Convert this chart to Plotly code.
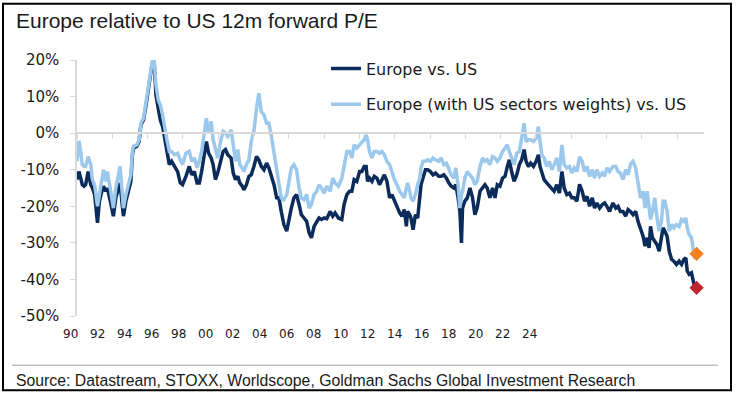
import plotly.graph_objects as go

# ---------------- data ----------------
years = [
    1990.00, 1990.11, 1990.21, 1990.30, 1990.40, 1990.49, 1990.63, 1990.78, 1990.87, 1991.00,
    1991.16, 1991.27, 1991.38, 1991.50, 1991.63, 1991.72, 1991.91, 1992.06, 1992.20, 1992.33,
    1992.44, 1992.54, 1992.63, 1992.77, 1992.90, 1993.05, 1993.14, 1993.20, 1993.39, 1993.52,
    1993.62, 1993.77, 1993.90, 1994.03, 1994.15, 1994.26, 1994.38, 1994.47, 1994.60, 1994.72,
    1994.85, 1994.98, 1995.09, 1995.23, 1995.36, 1995.51, 1995.70, 1995.85, 1995.98, 1996.17,
    1996.36, 1996.50, 1996.65, 1996.80, 1996.93, 1997.06, 1997.18, 1997.33, 1997.46, 1997.60,
    1997.71, 1997.84, 1997.97, 1998.13, 1998.28, 1998.41, 1998.54, 1998.73, 1998.85, 1998.98,
    1999.11, 1999.22, 1999.36, 1999.45, 1999.60, 1999.74, 1999.87, 2000.02, 2000.17, 2000.30,
    2000.44, 2000.59, 2000.74, 2000.87, 2001.00, 2001.16, 2001.31, 2001.44, 2001.57, 2001.72,
    2001.88, 2002.01, 2002.14, 2002.29, 2002.44, 2002.58, 2002.71, 2002.86, 2003.01, 2003.15,
    2003.28, 2003.43, 2003.58, 2003.71, 2003.85, 2004.00, 2004.15, 2004.34, 2004.49, 2004.62,
    2004.81, 2005.00, 2005.13, 2005.29, 2005.44, 2005.57, 2005.70, 2005.85, 2006.01, 2006.14,
    2006.27, 2006.38, 2006.46, 2006.57, 2006.71, 2006.84, 2006.99, 2007.14, 2007.28, 2007.41,
    2007.56, 2007.71, 2007.84, 2007.98, 2008.13, 2008.28, 2008.41, 2008.54, 2008.66, 2008.73,
    2008.85, 2008.92, 2009.04, 2009.17, 2009.30, 2009.42, 2009.49, 2009.60, 2009.74, 2009.87,
    2010.02, 2010.17, 2010.31, 2010.49, 2010.63, 2010.78, 2010.93, 2011.06, 2011.20, 2011.35,
    2011.46, 2011.59, 2011.69, 2011.78, 2011.84, 2011.97, 2012.11, 2012.26, 2012.41, 2012.54,
    2012.67, 2012.83, 2012.98, 2013.11, 2013.24, 2013.39, 2013.54, 2013.68, 2013.81, 2013.96,
    2014.11, 2014.25, 2014.38, 2014.49, 2014.62, 2014.76, 2014.91, 2015.06, 2015.19, 2015.33,
    2015.44, 2015.57, 2015.70, 2015.86, 2016.01, 2016.14, 2016.23, 2016.33, 2016.46, 2016.61,
    2016.76, 2016.90, 2017.03, 2017.18, 2017.33, 2017.47, 2017.60, 2017.75, 2017.90, 2018.03,
    2018.17, 2018.32, 2018.47, 2018.62, 2018.75, 2018.89, 2019.04, 2019.19, 2019.32, 2019.45,
    2019.61, 2019.76, 2019.89, 2020.02, 2020.17, 2020.36, 2020.52, 2020.65, 2020.78, 2020.93,
    2021.08, 2021.22, 2021.35, 2021.50, 2021.65, 2021.78, 2021.92, 2022.07, 2022.18, 2022.30,
    2022.41, 2022.49, 2022.60, 2022.73, 2022.86, 2022.98, 2023.11, 2023.20, 2023.30, 2023.43,
    2023.55, 2023.68, 2023.81, 2023.96, 2024.11, 2024.25, 2024.38, 2024.49, 2024.57, 2024.68,
    2024.81, 2024.91, 2025.00,
]

europe_vs_us = [
    -12.7, -10.5, -12.3, -14.1, -14.5, -14.1, -10.5, -14.1, -15.0, -16.8,
    -24.5, -18.6, -16.4, -14.5, -15.9, -15.0, -19.1, -22.7, -17.7, -15.5,
    -13.6, -18.6, -22.7, -18.6, -15.9, -13.2, -5.9, -4.1, -3.6, -2.3,
    2.3, 3.6, 7.3, 11.4, 16.4, 19.1, 18.6, 10.5, 6.8, 3.6,
    1.8, -1.4, -5.0, -8.6, -7.7, -9.1, -10.5, -13.6, -14.1, -11.8,
    -9.1, -11.4, -10.5, -13.6, -13.6, -10.5, -6.8, -2.3, -5.5, -6.8,
    -8.6, -12.7, -10.9, -7.7, -5.0, -4.5, -5.9, -6.8, -10.9, -12.7,
    -11.8, -13.6, -14.5, -15.5, -14.1, -11.8, -11.4, -9.1, -6.4, -7.3,
    -9.1, -10.0, -8.2, -9.5, -11.8, -14.1, -17.7, -17.7, -21.4, -25.0,
    -26.8, -23.2, -20.5, -17.7, -16.8, -19.5, -22.3, -23.2, -24.1, -27.3,
    -28.6, -25.5, -24.1, -23.2, -23.6, -23.2, -23.4, -21.4, -22.7, -21.8,
    -23.2, -23.6, -19.5, -16.8, -15.9, -15.9, -12.7, -13.2, -10.5, -10.5,
    -9.1, -9.1, -13.2, -12.3, -13.2, -11.8, -12.3, -14.1, -12.7, -11.4,
    -13.2, -17.7, -16.8, -18.6, -20.5, -21.8, -22.7, -20.9, -25.5, -21.4,
    -22.3, -23.2, -26.4, -22.3, -23.2, -18.6, -14.1, -12.3, -10.0, -10.0,
    -10.5, -11.4, -10.9, -11.8, -11.8, -11.4, -12.3, -13.6, -14.5, -15.0,
    -14.1, -17.7, -21.4, -30.0, -20.5, -18.6, -17.7, -15.0, -17.7, -22.3,
    -20.5, -15.9, -15.0, -14.1, -15.0, -17.7, -15.0, -17.7, -14.1, -14.5,
    -12.3, -11.8, -9.1, -7.3, -10.5, -13.2, -11.4, -8.6, -7.3, -4.5,
    -7.7, -9.1, -8.2, -9.1, -7.7, -5.9, -9.1, -10.9, -12.7, -13.6,
    -14.5, -15.0, -15.9, -14.1, -16.4, -10.5, -15.0, -16.8, -16.4, -17.7,
    -17.7, -18.6, -14.0, -15.9, -18.6, -17.3, -20.0, -17.7, -20.5, -19.1,
    -20.5, -19.5, -19.1, -20.0, -21.4, -19.1, -20.5, -20.0, -21.4, -21.4,
    -22.7, -20.9, -21.4, -22.3, -21.4, -24.1, -25.9, -28.2, -30.9, -28.6,
    -31.4, -25.5, -28.6, -29.5, -30.5, -32.3, -28.2, -25.9, -26.8, -28.2,
    -32.3, -34.5, -35.0, -35.9, -35.0, -35.9, -34.5, -34.1, -37.7, -38.6,
    -38.2, -40.5, -42.3,
]

europe_us_sector_weights = [
    -7.7, -2.1, -5.0, -8.6, -9.1, -9.1, -6.4, -8.6, -12.7, -14.1,
    -20.0, -16.8, -12.3, -10.0, -13.2, -10.5, -15.9, -20.5, -15.0, -12.3,
    -9.1, -15.0, -20.5, -16.8, -14.1, -11.4, -5.0, -3.6, -3.2, -1.8,
    2.7, 4.1, 8.2, 12.3, 16.8, 19.5, 19.5, 13.2, 9.1, 7.7,
    5.0, 0.5, -1.8, -5.0, -5.0, -5.9, -5.5, -7.3, -8.6, -5.5,
    -5.0, -7.7, -6.8, -9.5, -7.7, -5.0, -0.5, 4.1, 0.0, 3.2,
    -1.8, -4.1, -6.8, -2.3, 0.5, 0.0, -0.9, 0.9, -3.2, -7.7,
    -4.5, -8.6, -9.5, -10.5, -8.6, -7.3, -2.3, 0.5, 6.8, 10.9,
    5.9, 5.0, 2.7, 2.7, -0.5, -5.0, -9.5, -13.6, -17.7, -18.2,
    -16.8, -13.2, -9.5, -8.6, -10.0, -15.0, -17.7, -18.2, -16.8, -20.5,
    -19.5, -16.8, -15.9, -14.1, -15.0, -16.4, -14.5, -15.9, -12.3, -13.6,
    -14.5, -12.3, -8.6, -5.0, -5.0, -6.8, -3.2, -4.1, -3.2, -2.3,
    -1.8, -0.5, -1.8, -5.0, -6.8, -5.0, -5.0, -5.5, -5.0, -5.9,
    -7.7, -8.6, -10.9, -12.7, -14.1, -15.9, -16.8, -17.7, -15.0, -13.6,
    -15.9, -17.7, -18.6, -16.8, -14.1, -12.3, -9.5, -7.7, -7.7, -7.3,
    -7.7, -6.8, -7.3, -7.7, -6.8, -8.6, -8.2, -9.5, -11.4, -12.3,
    -9.5, -14.1, -20.5, -16.8, -15.9, -12.3, -10.5, -11.4, -12.3, -14.1,
    -13.2, -9.1, -6.8, -7.7, -7.3, -8.6, -6.4, -6.8, -7.7, -6.8,
    -5.0, -4.1, -3.2, -5.0, -6.8, -8.6, -5.5, -5.0, -1.4, 2.7,
    -2.3, -1.8, -1.8, -2.3, -1.4, 1.8, -2.3, -5.9, -6.8, -9.1,
    -7.7, -10.0, -8.6, -6.8, -10.5, -3.2, -8.6, -9.5, -9.1, -10.9,
    -9.5, -10.5, -6.5, -7.7, -10.5, -9.1, -11.8, -10.0, -12.3, -10.0,
    -11.8, -10.9, -11.8, -9.5, -10.5, -9.1, -9.1, -10.5, -10.9, -12.7,
    -10.0, -11.4, -8.6, -7.7, -9.5, -13.2, -17.7, -15.9, -20.5, -15.9,
    -19.5, -23.6, -21.4, -17.7, -23.2, -26.8, -24.1, -18.6, -18.6, -21.4,
    -26.8, -25.0, -25.9, -25.0, -25.5, -23.6, -24.1, -23.2, -25.9, -27.7,
    -28.6, -31.4, -34.5,
]

latest_year = [2025.1]
latest_sector_weights = [-33.0]
latest_europe_vs_us = [-42.3]

y_tick_values = [-50, -40, -30, -20, -10, 0, 10, 20]
y_tick_labels = ["-50%", "-40%", "-30%", "-20%", "-10%", "0%", "10%", "20%"]
x_tick_years = list(range(1990, 2025, 2))
x_tick_labels = ["90", "92", "94", "96", "98", "00", "02", "04", "06", "08",
                 "10", "12", "14", "16", "18", "20", "22", "24"]

# ---------------- layout geometry (pixels) ----------------
W, H = 736, 393
PL, PR, PT, PB = 77, 704, 59.5, 316.5


def px(x):
    return (x - PL) / (PR - PL)


def py(y):
    return (PB - y) / (PB - PT)


DARK = "#0b2c5a"
LIGHT = "#9cc8ec"
TXT = "#1a1a1a"
GRID = "#d9d9d9"
SANS = "DejaVu Sans, Liberation Sans, Arial, sans-serif"
ARIAL = "Liberation Sans, Arial, sans-serif"

# the printed year labels sit on their own, evenly spaced label axis
LABEL_STEP = 27.0      # px between printed labels
LABEL_FIRST = 80.7     # px of first label anchor inside the plot
LABEL_SHIFT = -10      # px shift applied to the printed labels
lab_lo = -(LABEL_FIRST - PL) / LABEL_STEP
lab_hi = lab_lo + (PR - PL) / LABEL_STEP

fig = go.Figure()
fig.add_trace(go.Scatter(
    x=years, y=europe_vs_us, mode="lines", name="Europe vs. US",
    line=dict(color=DARK, width=3.5), legendgroup="a"))
fig.add_trace(go.Scatter(
    x=years, y=europe_us_sector_weights, mode="lines",
    name="Europe (with US sectors weights) vs. US",
    line=dict(color=LIGHT, width=3.5), legendgroup="b"))
fig.add_trace(go.Scatter(
    x=latest_year, y=latest_sector_weights, mode="markers", showlegend=False,
    marker=dict(symbol="diamond", size=11, color="#f5821f")))
fig.add_trace(go.Scatter(
    x=latest_year, y=latest_europe_vs_us, mode="markers", showlegend=False,
    marker=dict(symbol="diamond", size=11, color="#c0272d")))
# empty trace that only carries the (label-only) axis
fig.add_trace(go.Scatter(
    x=list(range(len(x_tick_labels))), y=[None] * len(x_tick_labels),
    xaxis="x2", yaxis="y", mode="lines", showlegend=False, hoverinfo="skip"))

fig.update_layout(
    width=W, height=H,
    margin=dict(l=PL, r=W - PR, t=PT, b=H - PB, pad=0),
    paper_bgcolor="white", plot_bgcolor="white",
    showlegend=True,
    legend=dict(
        x=px(326), xanchor="left", y=py(51), yanchor="top",
        font=dict(family=SANS, size=16, color=TXT),
        bgcolor="rgba(0,0,0,0)", tracegroupgap=12, traceorder="grouped",
    ),
    xaxis=dict(
        range=[1990, 2025.52], anchor="free", position=50 / 70,
        showline=True, linecolor=GRID, linewidth=1.5,
        ticks="outside", ticklen=5, tickcolor=GRID, tickwidth=1.2,
        tickvals=x_tick_years, showticklabels=False,
        showgrid=False, zeroline=False,
    ),
    xaxis2=dict(
        overlaying="x", anchor="y", side="bottom",
        range=[lab_lo, lab_hi], tickmode="array",
        tickvals=list(range(len(x_tick_labels))), ticktext=x_tick_labels,
        ticks="", showline=False, showgrid=False, zeroline=False,
        ticklabelshift=LABEL_SHIFT, ticklabelstandoff=9,
        tickfont=dict(family=SANS, size=12, color=TXT),
    ),
    yaxis=dict(
        range=[-50, 20], tickmode="array", tickvals=y_tick_values, ticktext=y_tick_labels,
        showline=True, linecolor=GRID, linewidth=1.5,
        ticks="outside", ticklen=5, tickcolor=GRID, tickwidth=1.2,
        showgrid=False, zeroline=False,
        tickfont=dict(family=SANS, size=15, color=TXT),
        ticklabelstandoff=8,
    ),
)

fig.add_annotation(
    text="Europe relative to US 12m forward P/E",
    xref="paper", yref="paper", x=px(14), y=py(20),
    xanchor="left", yanchor="middle", showarrow=False,
    font=dict(family=ARIAL, size=21, color=TXT))

fig.add_annotation(
    text="Source: Datastream, STOXX, Worldscope, Goldman Sachs Global Investment Research",
    xref="paper", yref="paper", x=px(14), y=py(381),
    xanchor="left", yanchor="middle", showarrow=False,
    font=dict(family=ARIAL, size=15.8, color=TXT))

# separator above the source line
fig.add_shape(type="line", xref="paper", yref="paper",
              x0=px(12), x1=px(718), y0=py(366), y1=py(366),
              line=dict(color="#bfbfbf", width=1.5))
# outer frame
fig.add_shape(type="rect", xref="paper", yref="paper",
              x0=px(3), x1=px(731), y0=py(391), y1=py(3),
              line=dict(color="black", width=2))

fig.write_html(
    "out.html",
    config={"displayModeBar": False},
    post_script="document.body.style.margin='0';document.body.style.padding='0';",
)
